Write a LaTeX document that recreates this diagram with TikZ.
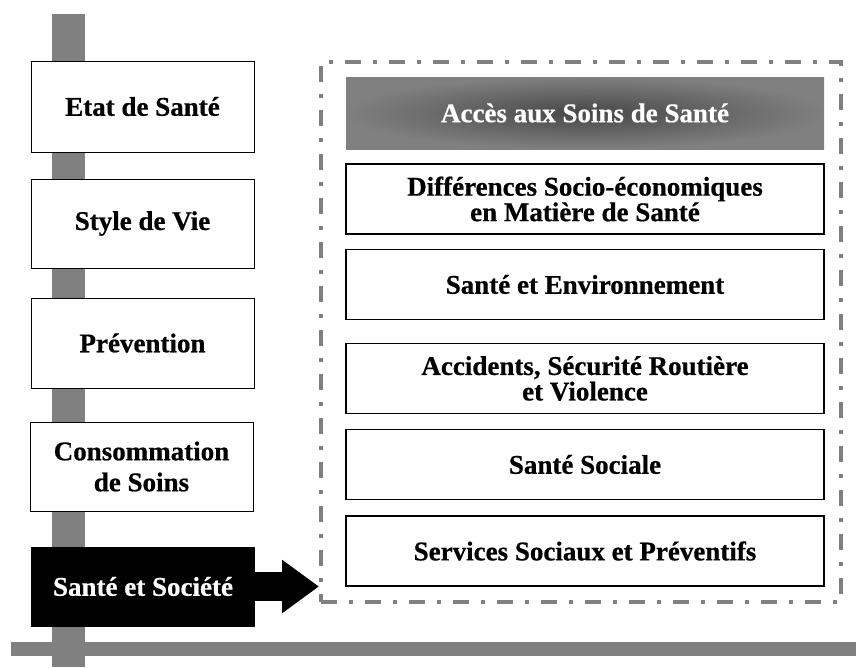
\documentclass[tikz,border=0pt]{standalone}
\usepackage{fontspec}
\setmainfont{Liberation Serif}[BoldFeatures={FakeBold=0.6}]
\usetikzlibrary{arrows.meta,positioning}
\tikzset{
  leftbox/.style={font=\bfseries\fontsize{27}{31}\selectfont,draw=black,line width=1pt,fill=white,minimum width=223pt,align=center},
  rightbox/.style={font=\bfseries\fontsize{27}{25.5}\selectfont,draw=black,line width=1.2pt,fill=white,minimum width=478pt,minimum height=70pt,align=center},
  framebox/.style={draw=gray,line width=4pt,dash pattern=on 16pt off 12pt on 4pt off 12pt,minimum width=520pt,minimum height=540pt},
}

\begin{document}
\begin{tikzpicture}[x=1pt,y=-1pt]
\useasboundingbox (0,0) rectangle (856,667);
% gray axes
\fill[gray] (52,14) rectangle (85,667);
\fill[gray] (11,642) rectangle (856,656);

% left column
\node[leftbox,minimum height=91pt] (etat) at (142.5,106.5) {Etat de Santé};
\node[leftbox,minimum height=89pt] (style) at (142.5,223.5) {Style de Vie};
\node[leftbox,minimum height=90pt] (prev) at (142.5,343) {Prévention};
\node[leftbox,minimum height=89pt] (conso) at (141.5,466.5) {Consommation\\de Soins};
\node[leftbox,fill=black,text=white,minimum height=79pt] (soc) at (143,586.5) {Santé et Société};

% dashed frame and its boxes
\node[framebox] (frame) at (581,332) {};
\node[rightbox,draw=none,inner color=black!72,outer color=black!50,text=white,minimum height=72pt] (acces) at (585,113) {Accès aux Soins de Santé};
\node[rightbox] (diff) at (585,199) {Différences Socio-économiques\\en Matière de Santé};
\node[rightbox] (env) at (585,284.5) {Santé et Environnement};
\node[rightbox] (acc) at (585,378.5) {Accidents, Sécurité Routière\\et Violence};
\node[rightbox] (sociale) at (585,464.5) {Santé Sociale};
\node[rightbox] (serv) at (585,551) {Services Sociaux et Préventifs};

% arrow
\draw[line width=29pt,-{Triangle[length=37pt,width=51pt]}] (soc.east) -- (soc.east -| frame.west);
\end{tikzpicture}
\end{document}
